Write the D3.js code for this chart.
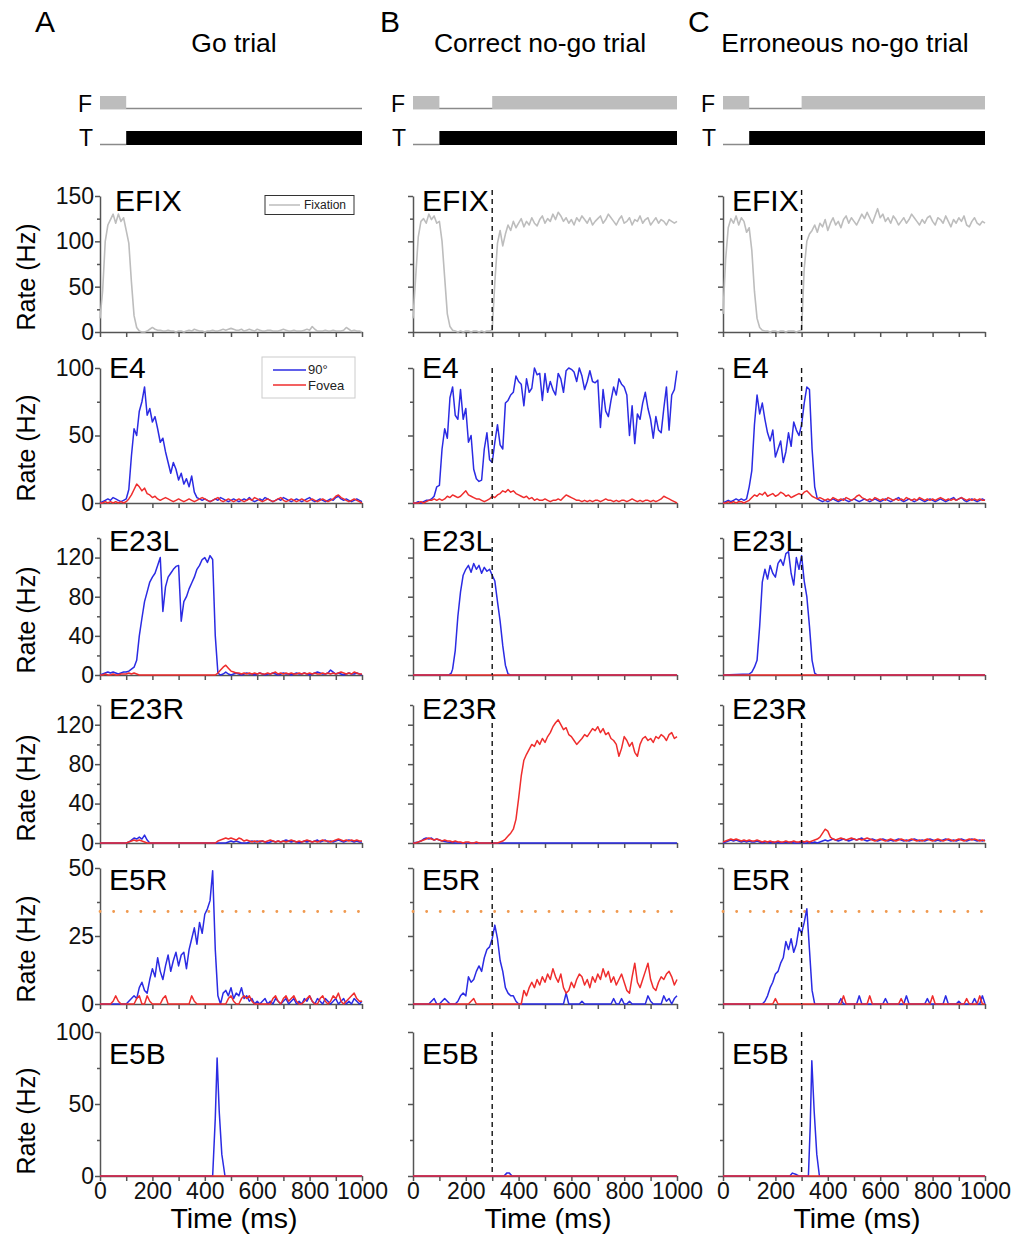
<!DOCTYPE html>
<html>
<head>
<meta charset="utf-8">
<script src="https://cdn.jsdelivr.net/npm/d3@7"></script>
<style>
  body { margin: 0; background: #fff; }
  text { font-family: "Liberation Sans", Arial, sans-serif; }
</style>
</head>
<body>
<script>
// ---- data (rates in Hz, sampled every 10 ms from 0 to 1000 ms, or [time, rate] pairs) ----

// Go trial
const goEFIX = [15,45,100,118,124,130,120,130,122,126,
  112,98,55,18,5,1,0,0,1,3,
  5,3,2,2,1,1,2,1,1,0,
  1,1,0,1,2,1,3,2,1,1,
  0,1,1,2,1,1,2,3,2,3,
  4,3,2,2,3,1,2,3,2,1,
  3,2,1,1,2,2,1,1,1,2,
  3,2,1,1,2,1,1,1,2,3,
  2,6,3,1,1,1,2,1,1,2,
  1,1,1,2,5,3,1,2,1,1,
  0];
const goE4Blue = [0,1,2,3,2,4,3,2,1,2,
  3,10,35,55,50,68,75,86,65,70,
  60,64,55,45,48,38,30,22,30,25,
  17,22,14,18,12,20,8,4,3,2,
  3,2,1,2,3,2,4,3,2,1,
  2,3,2,1,2,3,2,4,2,1,
  2,3,2,4,3,2,1,2,3,2,
  4,3,2,1,2,3,2,1,2,3,
  4,2,1,2,3,2,1,2,3,2,
  4,5,3,2,3,2,1,2,3,2,
  1];
const goE4Red = [0,0,1,0,1,0,1,0,1,0,
  1,3,6,10,14,12,9,11,7,6,
  4,5,3,2,3,4,3,2,1,2,
  3,2,1,2,3,2,1,2,3,4,
  3,2,1,2,3,4,2,1,2,3,
  2,1,2,3,2,1,2,3,2,4,
  3,2,1,2,3,2,1,2,3,4,
  2,1,2,3,2,1,2,3,2,1,
  2,3,2,1,2,3,2,1,2,3,
  5,6,4,3,2,1,2,3,2,1,
  0];
const goE23LBlue = [0,1,2,3,2,3,2,1,2,3,
  3,4,6,8,15,40,58,75,85,95,
  100,104,112,120,65,90,100,104,108,111,
  112,55,75,80,88,94,100,108,112,118,
  120,115,122,118,40,2,0,1,3,1,
  0,1,2,1,0,1,2,1,1,0,
  1,2,1,0,1,1,2,1,0,1,
  2,1,1,0,1,2,1,1,2,1,
  0,1,2,3,2,1,1,2,5,3,
  1,2,1,0,1,2,1,1,2,1,
  0];
const goE23LRed = [0,0,1,0,0,1,0,0,1,1,
  1,2,1,2,1,0,0,0,0,0,
  0,0,0,0,0,0,0,0,0,0,
  0,0,0,0,0,0,0,0,0,0,
  0,0,0,0,0,2,5,8,10,7,
  4,3,2,2,1,2,1,2,1,2,
  1,2,1,1,2,1,2,3,1,2,
  1,2,1,2,1,1,2,1,2,1,
  2,1,2,1,1,2,1,2,1,2,
  1,2,3,2,1,2,1,3,2,1,
  1];
const goE23RBlue = [0,0,0,0,0,0,0,0,0,0,
  0,1,3,5,4,6,4,8,3,0,
  0,0,0,0,0,0,0,0,0,0,
  0,0,0,0,0,0,0,0,0,0,
  0,0,0,0,0,0,0,0,0,1,
  2,1,2,1,0,0,0,1,2,1,
  2,1,2,1,0,1,2,1,2,1,
  2,3,2,1,2,1,0,1,2,1,
  2,1,2,3,1,2,3,1,2,1,
  2,3,2,1,2,3,2,1,2,1,
  1];
const goE23RRed = [0,0,0,0,0,0,0,0,0,0,
  0,1,2,3,2,3,2,1,0,0,
  0,0,0,0,0,0,0,0,0,0,
  0,0,0,0,0,0,0,0,0,0,
  0,0,0,0,0,2,3,4,5,4,
  5,4,3,5,4,2,3,2,1,2,
  1,2,2,1,2,3,2,1,2,1,
  2,1,2,3,2,1,2,1,2,3,
  2,1,2,1,2,3,2,2,1,2,
  3,4,3,2,3,2,3,2,3,2,
  2];
const goE5RBlue = [0,0,0,0,0,0,0,0,0,0,
  0,1,2,3,2,6,8,5,4,9,
  13,10,17,12,9,14,18,12,16,19,
  14,18,19,13,20,24,28,22,30,26,
  33,35,38,49,20,3,0,4,5,3,
  6,2,4,3,6,2,3,1,2,0,
  1,0,1,2,0,1,0,2,1,0,
  1,2,0,1,2,0,1,0,2,1,
  3,1,0,2,1,0,2,1,0,1,
  2,0,1,2,0,1,0,2,1,0,
  1];
const goE5RRed = [0,0,0,0,0,1,3,1,0,0,
  0,0,0,0,2,3,0,0,3,1,
  0,0,0,0,2,3,0,0,0,0,
  0,0,0,0,0,3,1,0,0,0,
  0,0,0,0,0,0,0,0,0,2,
  3,1,0,0,2,3,2,3,1,0,
  0,0,0,0,0,0,2,3,1,0,
  2,3,1,2,3,1,0,0,1,2,
  3,1,0,0,2,3,1,0,1,3,
  2,4,1,0,1,2,3,4,2,1,
  1];
const goE5BBlue = [[0,0],[430,0],[440,40],[447,82],[455,45],[465,15],[477,0],[1000,0]];
const goE5BRed = [[0,0],[1000,0]];

// Correct no-go trial
const cngEFIX = [15,60,105,122,125,120,130,124,128,120,
  122,100,60,20,6,2,1,0,1,0,
  1,1,0,1,1,0,1,0,1,1,
  2,55,98,112,95,108,118,112,122,115,
  120,125,116,122,118,126,120,117,124,128,
  120,125,122,130,124,132,128,122,126,120,
  124,118,126,122,128,124,120,126,118,122,
  125,128,120,124,130,126,122,118,124,128,
  120,122,126,118,124,122,128,120,124,126,
  118,122,126,120,124,122,118,124,122,120,
  122];
const cngE4Blue = [0,0,1,0,1,2,2,3,5,12,
  13,40,55,48,78,86,65,62,84,62,
  70,45,50,25,18,16,17,40,52,32,
  30,45,58,43,40,74,76,80,82,94,
  90,88,72,92,82,85,100,95,96,76,
  96,82,90,84,80,96,92,82,98,100,
  99,97,90,100,94,84,90,98,90,89,
  91,56,84,68,64,76,86,80,92,88,
  86,80,50,72,44,66,62,74,82,70,
  62,48,64,54,52,70,86,54,80,84,
  98];
const cngE4Red = [0,0,0,1,0,1,2,2,3,2,
  3,2,3,5,4,6,5,4,5,7,
  9,6,5,4,3,3,2,1,2,3,
  5,4,6,7,9,8,10,8,9,7,
  6,5,4,5,3,4,2,3,2,2,
  3,2,1,2,2,3,2,4,6,5,
  4,3,2,2,1,2,1,2,1,2,
  2,1,2,3,2,2,1,2,1,2,
  2,1,2,3,2,1,2,1,2,2,
  1,2,1,2,3,5,4,3,2,1,
  0];
const cngE23LBlue = [[0,0],[135,0],[145,2],[150,6],[160,25],[170,60],[180,85],[190,102],[200,108],
  [210,112],[220,105],[230,114],[240,108],[250,112],[260,104],[270,110],[280,106],[290,108],
  [300,102],[310,96],[320,75],[330,55],[340,30],[350,10],[360,1],[370,0],[1000,0]];
const cngE23LRed = [[0,0],[1000,0]];
const cngE23RBlue = [[0,0],[20,1],[30,2],[40,4],[50,5],[60,4],[70,5],[80,3],[90,4],[100,3],
  [110,2],[130,1],[160,0],[1000,0]];
const cngE23RRed = [0,0,1,2,3,4,5,4,3,4,
  3,2,3,2,2,1,2,1,1,0,
  1,1,0,0,1,0,0,0,0,0,
  0,0,0,1,2,4,7,10,14,24,
  45,68,84,90,95,100,98,104,100,106,
  102,108,112,118,122,125,120,115,117,110,
  108,104,100,103,106,110,108,112,116,114,
  118,112,116,110,112,106,104,100,88,96,
  108,104,98,102,92,88,100,106,108,104,
  106,102,108,106,110,108,104,110,112,106,
  108];
const cngE5RBlue = [0,0,0,0,0,0,0,1,2,0,
  0,1,2,1,0,0,0,1,3,4,
  3,10,8,9,12,14,12,17,20,21,
  24,29,24,16,12,6,4,3,3,1,
  0,0,0,0,0,0,0,0,0,0,
  0,0,0,0,0,0,0,0,4,0,
  0,0,0,0,1,0,0,0,0,0,
  0,0,0,0,0,0,2,0,0,2,
  0,0,1,0,0,0,0,0,0,3,
  1,0,0,0,0,3,1,2,0,2,
  3];
const cngE5RRed = [0,0,0,0,0,0,0,0,0,0,
  0,0,0,0,0,0,0,0,0,0,
  0,0,1,2,0,0,0,0,0,0,
  0,0,0,0,0,0,0,0,0,0,
  0,0,5,3,6,8,6,9,7,10,
  8,11,9,13,10,8,11,6,4,5,
  8,6,9,11,10,7,9,6,10,8,
  11,9,13,10,12,8,10,7,9,11,
  8,5,4,10,15,8,6,9,12,15,
  9,6,5,8,10,9,11,12,10,7,
  9];
const cngE5BBlue = [[0,0],[345,0],[355,2],[365,2],[375,0],[1000,0]];
const cngE5BRed = [[0,0],[1000,0]];

// Erroneous no-go trial
const engEFIX = [20,80,115,125,120,128,118,126,122,110,
  115,90,45,15,5,2,1,1,0,1,
  1,0,1,1,0,1,1,1,0,1,
  2,70,100,108,112,118,110,120,116,124,
  112,120,126,118,122,115,124,128,120,126,
  122,118,124,130,125,132,126,120,128,136,
  126,130,122,126,120,128,124,118,122,126,
  120,124,130,126,122,118,124,120,126,128,
  122,118,126,124,120,128,122,116,124,120,
  126,122,128,118,116,122,126,120,118,122,
  120];
const engE4Blue = [0,1,2,1,2,3,2,3,2,3,
  12,24,58,80,66,74,62,52,46,54,
  34,40,46,30,38,52,42,60,54,50,
  58,74,86,84,40,12,3,2,1,2,
  1,2,3,2,1,2,3,2,1,2,
  3,2,1,2,3,2,1,2,3,2,
  1,2,3,2,1,2,3,4,2,1,
  2,3,2,1,2,3,2,1,2,3,
  2,1,2,3,2,1,2,3,4,2,
  3,4,2,1,2,3,2,1,2,3,
  2];
const engE4Red = [0,0,1,0,1,0,1,1,0,1,
  2,4,6,5,7,6,8,5,6,7,
  5,6,8,7,5,6,4,5,6,7,
  6,8,9,7,5,4,3,4,3,2,
  3,2,4,3,2,3,2,4,3,2,
  3,5,6,4,3,2,3,2,4,3,
  2,3,2,4,3,2,3,2,3,2,
  4,3,2,3,2,4,3,2,3,2,
  3,2,3,4,3,2,3,2,3,2,
  3,4,3,2,3,2,3,2,3,2,
  2];
const engE23LBlue = [[0,0],[100,1],[110,3],[120,8],[130,15],[140,50],[150,95],[160,108],[170,98],
  [180,112],[190,104],[200,100],[210,114],[220,118],[230,112],[240,124],[250,126],[260,104],
  [270,92],[280,120],[290,108],[300,122],[310,96],[320,80],[330,50],[340,15],[350,2],[360,0],[1000,0]];
const engE23LRed = [[0,0],[1000,0]];
const engE23RBlue = [0,1,2,3,2,3,2,1,2,1,
  2,1,1,2,1,0,1,1,0,1,
  0,1,0,0,1,0,1,0,0,0,
  1,0,0,1,0,1,0,1,2,3,
  2,3,4,3,2,3,4,3,2,3,
  4,3,4,5,3,2,3,4,3,2,
  3,4,3,2,3,2,3,4,3,2,
  3,2,3,4,3,2,3,2,3,4,
  3,2,3,2,3,4,3,2,3,2,
  3,4,3,2,3,4,3,2,3,2,
  3];
const engE23RRed = [1,2,3,4,3,4,3,2,3,2,
  3,2,2,3,2,1,2,1,2,1,
  1,2,1,1,2,1,1,2,1,1,
  2,1,2,1,2,3,4,6,10,14,
  12,6,4,3,4,5,4,3,4,5,
  4,3,4,3,4,5,4,3,2,3,
  4,3,2,3,4,3,2,3,4,3,
  2,3,4,3,2,3,2,3,4,3,
  2,3,4,3,2,3,4,3,2,3,
  4,3,2,3,4,3,4,3,2,3,
  2];
const engE5RBlue = [0,0,0,0,0,0,0,0,0,0,
  0,0,0,0,0,0,1,3,6,8,
  11,12,15,17,23,20,24,19,22,28,
  26,30,35,20,5,0,0,0,0,0,
  0,0,0,0,0,2,0,0,0,0,
  0,0,3,0,0,0,0,0,0,0,
  0,0,2,0,0,0,0,0,0,0,
  3,0,0,0,0,0,0,0,2,0,
  0,0,0,0,0,3,0,0,0,0,
  1,0,0,0,0,0,2,0,0,3,
  0];
const engE5RRed = [0,0,0,0,0,0,0,0,0,0,
  0,0,0,0,0,0,0,0,0,0,
  2,0,0,0,0,0,0,0,0,0,
  0,0,0,0,0,0,0,0,0,0,
  0,0,0,0,0,0,3,0,0,0,
  0,0,0,0,0,0,3,0,0,0,
  0,0,0,0,0,0,0,0,2,0,
  0,0,0,0,0,0,0,0,0,0,
  3,0,0,0,0,0,0,0,0,0,
  0,0,0,2,0,0,0,0,3,0,
  0];
const engE5BBlue = [[0,0],[255,0],[265,2],[280,1],[290,0],[326,0],[333,35],[339,80],[348,45],[358,15],[368,0],[1000,0]];
const engE5BRed = [[0,0],[1000,0]];

// labels, ticks, events
const panelLetters = ["A", "B", "C"];
const trialTitles = ["Go trial", "Correct no-go trial", "Erroneous no-go trial"];
const rowNames = ["EFIX", "E4", "E23L", "E23R", "E5R", "E5B"];
const yMax = [150, 100, 140, 140, 50, 100];
const yTicks = [[0,50,100,150], [0,50,100], [0,40,80,120], [0,40,80,120], [0,25,50], [0,50,100]];
const yMinor = [[25,75,125], [25,75], [20,60,100,140], [20,60,100,140], [12.5,37.5], [25,75]];
const xTicks = [0,100,200,300,400,500,600,700,800,900,1000];
const xLabels = [0,200,400,600,800,1000];
const stopTime = 300;      // no-go cue (fixation returns)
const threshold = 34;      // E5R threshold
// fixation point / target on-off intervals [start, end] in ms
const fixOn = [[[0,100]], [[0,100],[300,1000]], [[0,100],[300,1000]]];
const targetOn = [100, 1000];

const grays = [goEFIX, cngEFIX, engEFIX];
const blues = [
  [null, goE4Blue, goE23LBlue, goE23RBlue, goE5RBlue, goE5BBlue],
  [null, cngE4Blue, cngE23LBlue, cngE23RBlue, cngE5RBlue, cngE5BBlue],
  [null, engE4Blue, engE23LBlue, engE23RBlue, engE5RBlue, engE5BBlue]];
const reds = [
  [null, goE4Red, goE23LRed, goE23RRed, goE5RRed, goE5BRed],
  [null, cngE4Red, cngE23LRed, cngE23RRed, cngE5RRed, cngE5BRed],
  [null, engE4Red, engE23LRed, engE23RRed, engE5RRed, engE5BRed]];

// ---- layout ----
var colX = [[100, 362], [413, 677], [723, 985]];
var rowY0 = [332, 503, 675, 843, 1004, 1176];
var rowTop = [196, 368, 538, 705, 868, 1032];
var nameY = [211, 378, 551, 719, 890, 1064];
var BLUE = "#2b2be3", RED = "#ef2d2d", GRAY = "#bdbdbd", AX = "#555";

var svg = d3.select("body").append("svg")
  .attr("width", 1013).attr("height", 1236);

function pts(arr){
  if(Array.isArray(arr[0])) return arr;
  return arr.map(function(v, i){ return [i*10, v]; });
}

for(var c = 0; c < 3; c++){
  var x = d3.scaleLinear().domain([0, 1000]).range(colX[c]);
  var x0 = colX[c][0];
  var mid = (colX[c][0] + colX[c][1]) / 2;

  // header
  svg.append("text").attr("x", [35, 380, 688][c]).attr("y", 32)
    .attr("font-size", 30).text(panelLetters[c]);
  svg.append("text").attr("x", [234, 540, 845][c]).attr("y", 52)
    .attr("font-size", 26.5).attr("text-anchor", "middle").text(trialTitles[c]);

  // F / T event bars
  svg.append("text").attr("x", x0 - 22).attr("y", 112).attr("font-size", 23).text("F");
  svg.append("text").attr("x", x0 - 21).attr("y", 146).attr("font-size", 23).text("T");
  svg.append("line").attr("x1", x(0)).attr("x2", x(1000)).attr("y1", 108.5).attr("y2", 108.5)
    .attr("stroke", "#8a8a8a").attr("stroke-width", 1.5);
  svg.selectAll(null).data(fixOn[c]).enter().append("rect")
    .attr("x", function(d){ return x(d[0]); })
    .attr("width", function(d){ return x(d[1]) - x(d[0]); })
    .attr("y", 96).attr("height", 13).attr("fill", GRAY);
  svg.append("line").attr("x1", x(0)).attr("x2", x(targetOn[0])).attr("y1", 144.5).attr("y2", 144.5)
    .attr("stroke", "#8a8a8a").attr("stroke-width", 1.5);
  svg.append("rect").attr("x", x(targetOn[0])).attr("width", x(targetOn[1]) - x(targetOn[0]))
    .attr("y", 131).attr("height", 14).attr("fill", "#000");

  for(var r = 0; r < 6; r++){
    var y = d3.scaleLinear().domain([0, yMax[r]]).range([rowY0[r], rowTop[r]]);
    var g = svg.append("g");
    var line = d3.line().x(function(d){ return x(d[0]); }).y(function(d){ return y(d[1]); });

    // axes
    var yAxis = d3.axisLeft(y).tickValues(yTicks[r]).tickSize(5).tickSizeOuter(0).tickPadding(1)
      .tickFormat(c == 0 ? d3.format("d") : "");
    var ya = g.append("g").attr("transform", "translate(" + x0 + ",0)").call(yAxis);
    var ym = g.append("g").attr("transform", "translate(" + x0 + ",0)")
      .call(d3.axisLeft(y).tickValues(yMinor[r]).tickSize(3).tickFormat(""));
    ym.select(".domain").remove();

    var xAxis = d3.axisBottom(x).tickValues(xTicks).tickSize(5).tickSizeOuter(0).tickPadding(2)
      .tickFormat(function(d){ return (r == 5 && xLabels.indexOf(d) >= 0) ? d : ""; });
    var xa = g.append("g").attr("transform", "translate(0," + rowY0[r] + ")").call(xAxis);

    [ya, ym, xa].forEach(function(a){
      a.selectAll("path, line").attr("stroke", AX).attr("stroke-width", 1.5);
      a.selectAll("text").attr("font-size", 23).attr("fill", "#111")
        .attr("font-family", "Liberation Sans, Arial, sans-serif");
    });

    // threshold
    if(r == 4){
      g.append("line").attr("x1", x(0)).attr("x2", x(1000))
        .attr("y1", y(threshold)).attr("y2", y(threshold))
        .attr("stroke", "#f09a50").attr("stroke-width", 2.8)
        .attr("stroke-linecap", "round").attr("stroke-dasharray", "0.1,13.5");
    }

    // traces
    if(r == 0){
      g.append("path").attr("d", line(pts(grays[c]))).attr("fill", "none")
        .attr("stroke", GRAY).attr("stroke-width", 1.6).attr("stroke-linejoin", "round");
    }else{
      g.append("path").attr("d", line(pts(blues[c][r]))).attr("fill", "none")
        .attr("stroke", BLUE).attr("stroke-width", 1.5).attr("stroke-linejoin", "round");
      g.append("path").attr("d", line(pts(reds[c][r]))).attr("fill", "none")
        .attr("stroke", RED).attr("stroke-width", 1.5).attr("stroke-linejoin", "round");
    }

    // stop cue
    if(c > 0){
      g.append("line").attr("x1", x(stopTime)).attr("x2", x(stopTime))
        .attr("y1", r == 0 ? rowTop[r] - 6 : rowTop[r]).attr("y2", rowY0[r])
        .attr("stroke", "#111").attr("stroke-width", 1.4).attr("stroke-dasharray", "5,4");
    }

    // unit name
    g.append("text").attr("x", x0 + ((c == 0 && r == 0) ? 15 : 9)).attr("y", nameY[r])
      .attr("font-size", 30).text(rowNames[r]);

    if(c == 0){
      svg.append("text").attr("transform", "translate(35," + (rowY0[r] - 55) + ") rotate(-90)")
        .attr("text-anchor", "middle").attr("font-size", 25).text("Rate (Hz)");
    }
    if(r == 5){
      svg.append("text").attr("x", mid + 3).attr("y", 1228).attr("text-anchor", "middle")
        .attr("font-size", 28.5).text("Time (ms)");
    }
  }
}

// legends
var leg1 = svg.append("g");
leg1.append("rect").attr("x", 265).attr("y", 195.5).attr("width", 89).attr("height", 19)
  .attr("fill", "#fff").attr("stroke", "#333").attr("stroke-width", 1);
leg1.append("line").attr("x1", 269).attr("x2", 300).attr("y1", 205).attr("y2", 205)
  .attr("stroke", GRAY).attr("stroke-width", 1.5);
leg1.append("text").attr("x", 304).attr("y", 209).attr("font-size", 12).attr("fill", "#222").text("Fixation");

var leg2 = svg.append("g");
leg2.append("rect").attr("x", 262).attr("y", 357).attr("width", 93).attr("height", 41)
  .attr("fill", "#fff").attr("stroke", "#ccc").attr("stroke-width", 1);
leg2.append("line").attr("x1", 273).attr("x2", 306).attr("y1", 370).attr("y2", 370)
  .attr("stroke", BLUE).attr("stroke-width", 1.3);
leg2.append("text").attr("x", 308).attr("y", 374).attr("font-size", 13).attr("fill", "#222").text("90°");
leg2.append("line").attr("x1", 273).attr("x2", 306).attr("y1", 385).attr("y2", 385)
  .attr("stroke", RED).attr("stroke-width", 1.3);
leg2.append("text").attr("x", 308).attr("y", 390).attr("font-size", 13).attr("fill", "#222").text("Fovea");
</script>
</body>
</html>
